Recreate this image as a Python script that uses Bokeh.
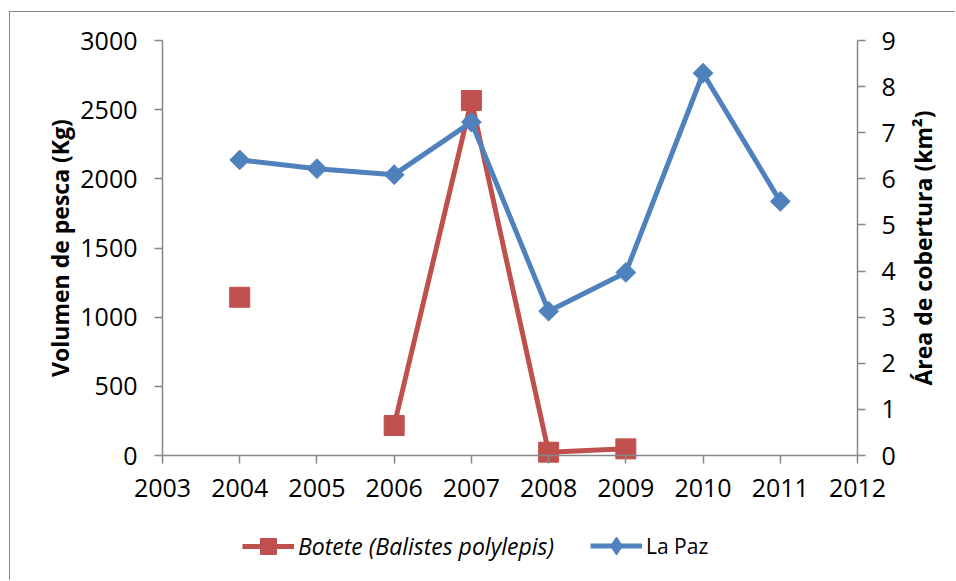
import numpy as np
from bokeh.plotting import figure
from bokeh.models import Range1d, LinearAxis, FixedTicker, Legend, LegendItem, Label
from bokeh.embed import file_html
from bokeh.resources import INLINE

# Data
years = [2004, 2005, 2006, 2007, 2008, 2009, 2010, 2011]
botete_kg = [1144, np.nan, 217, 2566, 24, 48, np.nan, np.nan]
lapaz_km2 = [6.41, 6.22, 6.09, 7.23, 3.13, 3.97, 8.29, 5.51]
x_ticks = list(range(2003, 2013))
left_ticks = [0, 500, 1000, 1500, 2000, 2500, 3000]
right_ticks = list(range(0, 10))

RED = "#C0504D"
BLUE = "#4F81BD"
AXIS = "#868686"
FONT = "Open Sans"

# layout (page pixels)
W, H = 946, 569
CANVAS_L, CANVAS_T = 10, 12
CANVAS_R, CANVAS_B = CANVAS_L + W, CANVAS_T + H
AX_L, AX_R, AX_T, AX_B = 162, 857, 40, 455
X0, X1 = 2003, 2012
KG_MAX, KM_MAX = 3000, 9

px_per_year = (AX_R - AX_L) / (X1 - X0)
px_per_kg = (AX_B - AX_T) / KG_MAX
x_min = X0 - (AX_L - CANVAS_L) / px_per_year
x_max = X1 + (CANVAS_R - AX_R) / px_per_year
kg_max = KG_MAX + (AX_T - CANVAS_T) / px_per_kg
kg_min = -(CANVAS_B - AX_B) / px_per_kg
km_max = kg_max * KM_MAX / KG_MAX
km_min = kg_min * KM_MAX / KG_MAX

p = figure(width=W, height=H, output_backend="svg", toolbar_location=None,
           x_range=Range1d(x_min, x_max), y_range=Range1d(kg_min, kg_max),
           min_border=0, y_axis_location=None)
p.styles = {"border-left": "1px solid #868686", "border-top": "1px solid #868686",
            "margin-left": "9px", "margin-top": "11px"}
p.extra_y_ranges = {"area": Range1d(km_min, km_max)}
p.outline_line_color = None
p.grid.visible = False
p.background_fill_color = "white"
p.border_fill_color = "white"

# axes
yl = LinearAxis(ticker=FixedTicker(ticks=left_ticks), bounds=(0, KG_MAX), fixed_location=X0)
yr = LinearAxis(ticker=FixedTicker(ticks=right_ticks), y_range_name="area",
                bounds=(0, KM_MAX), fixed_location=X1)
p.add_layout(yl, "left")
p.add_layout(yr, "right")
xa = p.xaxis[0]
xa.ticker = FixedTicker(ticks=x_ticks)
xa.fixed_location = 0
xa.bounds = (X0, X1)

for ax in [yl, yr, xa]:
    ax.axis_line_color = AXIS
    ax.axis_line_width = 1.5
    ax.major_tick_line_color = AXIS
    ax.major_tick_line_width = 1.5
    ax.major_tick_in = 0
    ax.major_tick_out = 8
    ax.minor_tick_line_color = None
    ax.major_label_text_font = FONT
    ax.major_label_text_font_size = "25px"
    ax.major_label_text_color = "black"
yl.major_label_standoff = 17
yr.major_label_standoff = 16
xa.major_label_standoff = 15

# axis titles
lbl_style = dict(text_font=FONT, text_font_style="bold", text_font_size="23px",
                 text_color="black", angle=np.pi / 2, text_align="center",
                 text_baseline="middle")
p.add_layout(Label(x=X0 - (AX_L - 59) / px_per_year, y=KG_MAX / 2,
                   text="Volumen de pesca (Kg)", **lbl_style))
p.add_layout(Label(x=X1 + (922 - AX_R) / px_per_year, y=KG_MAX / 2,
                   text="Área de cobertura (km²)", **lbl_style))

# series
r_line = p.line(years, botete_kg, line_color=RED, line_width=5)
r_pts = p.scatter(years, botete_kg, marker="square", size=20, fill_color=RED, line_color=RED)
b_line = p.line(years, lapaz_km2, line_color=BLUE, line_width=5, y_range_name="area")
# diamond used for the legend key; hidden beneath the rotated squares in the plot
b_key = p.scatter(years, lapaz_km2, marker="diamond", size=16, fill_color=BLUE,
                  line_color=BLUE, y_range_name="area")
b_pts = p.scatter(years, lapaz_km2, marker="square", angle=np.pi / 4, size=14,
                  fill_color=BLUE, line_color=BLUE, y_range_name="area")

common = dict(border_line_color=None, background_fill_alpha=0, padding=0, margin=0,
              glyph_width=52, label_standoff=4, label_text_font=FONT,
              label_text_color="black")
leg1 = Legend(items=[LegendItem(label="Botete (Balistes polylepis)", renderers=[r_line, r_pts])],
              location=(242 - CANVAS_L, 15), glyph_height=40,
              label_text_font_style="italic", label_text_font_size="23px", **common)
leg2 = Legend(items=[LegendItem(label="La Paz", renderers=[b_line, b_key])],
              location=(590 - CANVAS_L, 13), glyph_height=45,
              label_text_font_size="21px", **common)
p.add_layout(leg1)
p.add_layout(leg2)

open("out.html", "w").write(file_html(p, INLINE))
